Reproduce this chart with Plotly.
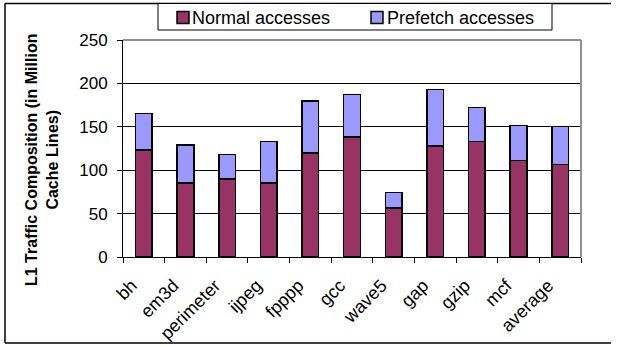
import plotly.graph_objects as go

categories = ["bh", "em3d", "perimeter", "ijpeg", "fpppp", "gcc", "wave5", "gap", "gzip", "mcf", "average"]
normal = [123, 85, 90, 85, 120, 138.5, 56.5, 128, 133, 111, 106.5]
prefetch = [42.5, 44, 28, 48, 59.5, 48.5, 18, 65, 39, 40.5, 44]
y_ticks = [0, 50, 100, 150, 200, 250]
series_names = ["Normal accesses", "Prefetch accesses"]
series_colors = ["#993366", "#9999FF"]

FONT = "Liberation Sans, Arial, sans-serif"

# plot area in pixels
L, R, T, B = 123, 581, 40, 257
W, H = 618, 347
pw, ph = R - L, B - T

def px(x):
    return (x - L) / pw

def py(y):
    return (B - y) / ph

fig = go.Figure()
for vals, name, col in zip([normal, prefetch], series_names, series_colors):
    fig.add_trace(go.Bar(x=categories, y=vals, name=name, showlegend=False,
                         marker=dict(color=col, line=dict(color="black", width=1.5))))

fig.update_layout(
    width=W, height=H,
    margin=dict(l=L, r=W - R, t=T, b=H - B, autoexpand=False),
    barmode="stack", bargap=0.6,
    plot_bgcolor="white", paper_bgcolor="white",
    font=dict(family=FONT, size=16, color="black"),
    showlegend=False,
    xaxis=dict(tickangle=-45, tickson="boundaries", ticks="outside", ticklen=5,
               tickcolor="black", showline=True, linecolor="black", linewidth=1,
               tickfont=dict(family=FONT, size=18), ticklabelshift=-12,
               ticklabelstandoff=10),
    yaxis=dict(range=[0, 250], tickvals=y_ticks, ticks="outside", ticklen=5,
               tickcolor="black", showline=True, linecolor="black", linewidth=1,
               showgrid=True, gridcolor="black", gridwidth=1,
               tickfont=dict(family=FONT, size=17), zeroline=False,
               ticklabelstandoff=6),
)

# y-axis title
fig.add_annotation(text="<b>L1 Traffic Composition (in Million<br>Cache Lines)</b>",
                   xref="paper", yref="paper", x=px(42), y=py(160), textangle=-90,
                   showarrow=False, font=dict(family=FONT, size=16), align="center",
                   xanchor="center", yanchor="middle")

# plot area top/right border (gray)
fig.add_shape(type="line", xref="paper", yref="paper", x0=0, x1=1, y0=1, y1=1,
              line=dict(color="#909090", width=2))
fig.add_shape(type="line", xref="paper", yref="paper", x0=1, x1=1, y0=0, y1=1,
              line=dict(color="#909090", width=2))
# outer chart frame (right side falls outside the picture)
for (xa, ya, xb, yb) in [(5, 3.5, 5, 343), (5, 3.5, 611, 3.5), (5, 343, 611, 343)]:
    fig.add_shape(type="line", xref="paper", yref="paper",
                  x0=px(xa), y0=py(ya), x1=px(xb), y1=py(yb),
                  line=dict(color="black", width=1.5), layer="below")

# legend box
fig.add_shape(type="rect", xref="paper", yref="paper",
              x0=px(158), x1=px(552), y0=py(30), y1=py(3.5),
              line=dict(color="black", width=1), fillcolor="white")
sq_x = [177, 371]
txt_x = [190, 385]
for sx, tx, name, col in zip(sq_x, txt_x, series_names, series_colors):
    fig.add_shape(type="rect", xref="paper", yref="paper",
                  x0=px(sx), x1=px(sx + 12), y0=py(23.5), y1=py(11.5),
                  line=dict(color="black", width=1.5), fillcolor=col)
    fig.add_annotation(text=name, xref="paper", yref="paper", x=px(tx), y=py(17.5),
                       xanchor="left", yanchor="middle", showarrow=False,
                       font=dict(family=FONT, size=18))

fig.write_html("out.html")
